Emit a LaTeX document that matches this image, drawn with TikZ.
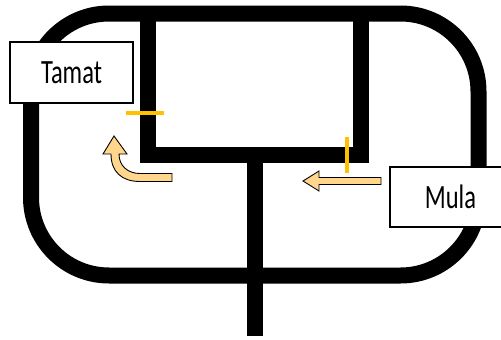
\documentclass[tikz,border=0pt]{standalone}
\usepackage{fontspec}
\newfontfamily\lblfont[FakeStretch=0.72]{Carlito}
\definecolor{gold}{RGB}{255,192,0}
\definecolor{arrowfill}{RGB}{255,214,140}
\tikzset{
  track/.style={line width=16pt, line join=miter},
  tickmark/.style={draw=gold, line width=3.5pt},
  arrowshape/.style={fill=arrowfill, draw=black, line width=0.9pt, line join=miter},
  labelbox/.style={draw=black, fill=white, line width=2pt, inner sep=0pt, font=\lblfont\fontsize{34}{36}\selectfont}
}
\begin{document}
\begin{tikzpicture}[x=1pt,y=-1pt]
\useasboundingbox (0,0) rectangle (501,340);
\clip (0,0) rectangle (501,340);
\fill[white] (0,0) rectangle (501,340);
% outer track
\draw[track, rounded corners=78pt] (31,13.5) rectangle (478.5,275.5);
% inner rectangle
\draw[track] (147.5,13.5) -- (147.5,155) -- (361,155) -- (361,13.5);
% stem
\coordinate (stemtop) at (255,155);
\coordinate (stembot) at (255,336);
\draw[line width=16pt] (stemtop) -- (stembot);
% gold ticks
\draw[tickmark] (126,113) -- (164,113);
\draw[tickmark] (347,137) -- (347,173);
% straight arrow
\draw[arrowshape] (381,177.5) -- (319,177.5) -- (319,171) -- (303,181) -- (319,191) -- (319,184.5) -- (381,184.5) -- cycle;
% curved arrow
\draw[arrowshape] (111,154) .. controls (111,172) and (122,181.5) .. (140,181.5) -- (172,181.5) -- (172,173.5) -- (140,173.5) .. controls (128,173.5) and (119,166) .. (119,154) -- (127,154) -- (114,136) -- (103,154) -- cycle;
% label boxes
\node[labelbox, minimum width=123pt, minimum height=61pt] (tamat) at (71.5,72.5) {Tamat};
\node[labelbox, minimum width=130pt, minimum height=60pt, anchor=west] (mulabox) at (389,197) {};
\node[font=\lblfont\fontsize{34}{36}\selectfont] (mula) at (450.5,197) {Mula};
\end{tikzpicture}
\end{document}
